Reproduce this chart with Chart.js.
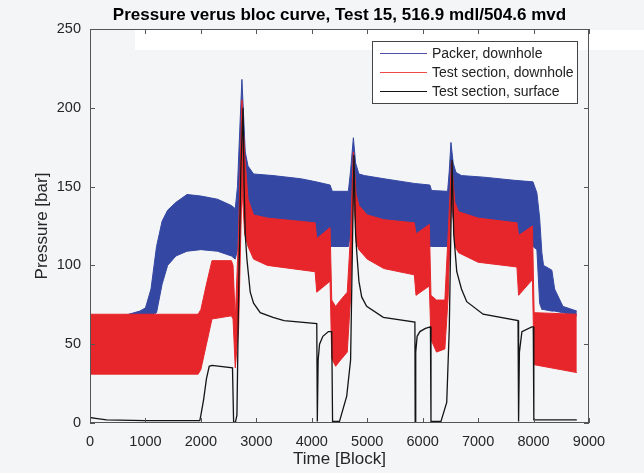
<!DOCTYPE html>
<html>
<head>
<meta charset="utf-8">
<title>Pressure verus bloc curve</title>
<script src="https://cdn.jsdelivr.net/npm/chart.js@4.4.0/dist/chart.umd.min.js"></script>
<style>
  html, body { margin: 0; padding: 0; background: #f4f5f7; }
</style>
</head>
<body>
<canvas id="pressureChart" width="644" height="473"></canvas>
<script>
const titleText = "Pressure verus bloc curve, Test 15, 516.9 mdl/504.6 mvd";
const legendLabels = ["Packer, downhole", "Test section, downhole", "Test section, surface"];

// Packer, downhole (noisy band: upper / lower envelope)
const packerX = [0, 600, 900, 1000, 1100, 1200, 1300, 1400, 1550, 1750, 2000, 2300, 2550, 2620, 2660, 2700, 2740, 2770, 2800, 2850, 2950, 3300, 3800, 4080, 4330, 4370, 4660, 4700, 4750, 4790, 4850, 4950, 5300, 5850, 6130, 6160, 6450, 6480, 6510, 6550, 6600, 6700, 7100, 7650, 7990, 8060, 8110, 8150, 8180, 8330, 8380, 8530, 8780];
const packerHi = [66, 68, 71, 73, 85, 112, 128, 135, 140, 145, 144, 142, 138, 136, 150, 185, 218, 195, 172, 163, 158, 157, 155, 153, 151, 147, 147, 160, 181, 165, 158, 157, 155, 152, 151, 147.5, 147, 160, 178, 165, 159, 157, 156, 154, 153, 146, 130, 108, 100, 97, 85, 74, 71];
const packerLo = [60, 62, 64, 66, 68, 70, 88, 100, 106, 109, 110, 109, 106, 104, 110, 150, 190, 160, 140, 126, 120, 118, 115, 113, 112, 112, 112, 120, 150, 130, 125, 120, 117, 113, 112, 112, 112, 125, 150, 130, 125, 120, 118, 115, 112, 110, 76, 72, 72, 71, 71, 70, 68];

// Test section, downhole (noisy band: upper / lower envelope)
const testDhX = [0, 1950, 2000, 2100, 2200, 2550, 2580, 2620, 2680, 2740, 2790, 2850, 2950, 3200, 4060, 4090, 4330, 4360, 4430, 4520, 4640, 4700, 4750, 4800, 4850, 5000, 5300, 5850, 5880, 6120, 6150, 6250, 6400, 6460, 6520, 6580, 6650, 7000, 7700, 7730, 7980, 8010, 8780];
const testDhHi = [69, 69, 72, 88, 103, 103, 100, 66, 120, 205, 170, 142, 132, 130, 127, 117, 124, 78, 74, 78, 83, 120, 172, 145, 138, 132, 129, 127, 120, 126, 81, 78, 78, 120, 166, 140, 134, 130, 127, 119, 125, 70, 69];
const testDhLo = [31, 31, 34, 50, 66, 68, 66, 35, 60, 150, 120, 112, 104, 100, 96, 83, 90, 41, 36, 40, 45, 80, 150, 115, 110, 104, 98, 94, 81, 87, 53, 45, 47, 80, 150, 112, 108, 102, 99, 81, 91, 37, 32];

// Test section, surface
const surfaceX = [0, 100, 300, 1000, 1980, 2000, 2050, 2100, 2150, 2200, 2570, 2590, 2620, 2650, 2680, 2720, 2760, 2780, 2800, 2830, 2890, 2950, 3070, 3300, 3500, 4090, 4100, 4115, 4140, 4200, 4300, 4360, 4375, 4500, 4630, 4700, 4760, 4790, 4812, 4850, 4900, 4990, 5290, 5860, 5865, 5875, 5900, 5950, 6050, 6140, 6150, 6330, 6434, 6480, 6530, 6560, 6615, 6700, 6795, 7090, 7720, 7730, 7745, 7790, 7968, 7995, 8005, 8780];
const surfaceY = [3.5, 3, 2, 1.5, 1.5, 5, 15, 28, 36, 36.5, 35, 1, 0, 5, 80, 160, 200, 150, 120, 104, 83, 76, 70, 67, 65, 63, 1, 40, 50, 55, 58, 58, 1, 1, 17, 40, 170, 120, 108, 90, 80, 74, 67, 64, 1, 45, 55, 58, 60, 61, 1, 1, 13, 60, 167, 120, 96, 85, 77, 69, 65, 1, 45, 58, 61, 61, 2, 2];

const toPts = (xs, ys) => xs.map((x, i) => ({ x: x, y: ys[i] }));

const blue = "#3447a2";
const red = "#e7262b";
const black = "#141414";
const fontFamily = "'Liberation Sans', Arial, Helvetica, sans-serif";

const chartBackground = {
  id: "chartBackground",
  beforeDraw(chart) {
    const { ctx, width, height, chartArea: a } = chart;
    ctx.save();
    ctx.fillStyle = "#f4f5f7";
    ctx.fillRect(0, 0, width, height);
    // whiter strip visible along the top of the scanned figure
    ctx.fillStyle = "#ffffff";
    ctx.fillRect(a.left + 45, a.top + 1, width - a.left - 45, 20);
    ctx.restore();
  },
};

const boxAndTicks = {
  id: "boxAndTicks",
  afterDatasetsDraw(chart) {
    const { ctx, chartArea: a, scales } = chart;
    ctx.save();
    ctx.strokeStyle = "#555555";
    ctx.lineWidth = 1;
    ctx.strokeRect(a.left + 0.5, a.top + 0.5, a.right - a.left - 1, a.bottom - a.top - 1);
    ctx.beginPath();
    scales.x.ticks.forEach((t) => {
      const px = Math.round(scales.x.getPixelForValue(t.value)) + 0.5;
      ctx.moveTo(px, a.bottom);
      ctx.lineTo(px, a.bottom - 5);
      ctx.moveTo(px, a.top);
      ctx.lineTo(px, a.top + 5);
    });
    scales.y.ticks.forEach((t) => {
      const py = Math.round(scales.y.getPixelForValue(t.value)) + 0.5;
      ctx.moveTo(a.left, py);
      ctx.lineTo(a.left + 5, py);
      ctx.moveTo(a.right, py);
      ctx.lineTo(a.right - 5, py);
    });
    ctx.stroke();
    ctx.restore();
  },
  afterDraw(chart) {
    const { ctx, chartArea: a } = chart;
    ctx.save();
    // title
    ctx.fillStyle = "#000000";
    ctx.font = "bold 17px " + fontFamily;
    ctx.textAlign = "center";
    ctx.textBaseline = "middle";
    ctx.fillText(titleText, (a.left + a.right) / 2, 15);

    // legend inside the plot, top right
    const w = 205, h = 62;
    const lx = a.right - 12 - w, ly = a.top + 12;
    ctx.fillStyle = "#ffffff";
    ctx.fillRect(lx, ly, w, h);
    ctx.strokeStyle = "#444444";
    ctx.lineWidth = 1;
    ctx.strokeRect(lx + 0.5, ly + 0.5, w, h);
    const lineColors = ["#5050a8", "#ee4a4a", black];
    ctx.font = "14px " + fontFamily;
    ctx.textAlign = "left";
    legendLabels.forEach((label, i) => {
      const ry = ly + 12 + i * 19;
      ctx.strokeStyle = lineColors[i];
      ctx.beginPath();
      ctx.moveTo(lx + 8, ry + 0.5);
      ctx.lineTo(lx + 55, ry + 0.5);
      ctx.stroke();
      ctx.fillStyle = "#222222";
      ctx.fillText(label, lx + 60, ry + 1);
    });
    ctx.restore();
  },
};

const ctx = document.getElementById("pressureChart").getContext("2d");

new Chart(ctx, {
  type: "line",
  data: {
    datasets: [
      {
        label: legendLabels[2],
        data: toPts(surfaceX, surfaceY),
        borderColor: black,
        borderWidth: 1.3,
        fill: false,
      },
      {
        label: legendLabels[1],
        data: toPts(testDhX, testDhHi),
        borderColor: red,
        backgroundColor: red,
        borderWidth: 1,
        fill: "+1",
      },
      {
        label: legendLabels[1] + " (lower)",
        data: toPts(testDhX, testDhLo),
        borderColor: red,
        borderWidth: 1,
        fill: false,
      },
      {
        label: legendLabels[0],
        data: toPts(packerX, packerHi),
        borderColor: blue,
        backgroundColor: blue,
        borderWidth: 1,
        fill: "+1",
      },
      {
        label: legendLabels[0] + " (lower)",
        data: toPts(packerX, packerLo),
        borderColor: blue,
        borderWidth: 1,
        fill: false,
      },
    ],
  },
  options: {
    responsive: false,
    animation: false,
    layout: { padding: { top: 29, right: 55, left: 0, bottom: 0 } },
    elements: { point: { radius: 0 }, line: { tension: 0 } },
    plugins: {
      legend: { display: false },
      title: { display: false },
      tooltip: { enabled: false },
    },
    scales: {
      x: {
        type: "linear",
        min: 0,
        max: 9000,
        grid: { display: false, drawTicks: false },
        border: { display: false },
        ticks: {
          stepSize: 1000,
          padding: 10,
          color: "#262626",
          font: { family: fontFamily, size: 14.5 },
          callback: (v) => String(v),
        },
        title: {
          display: true,
          text: "Time [Block]",
          color: "#262626",
          font: { family: fontFamily, size: 17 },
          padding: { top: 0, bottom: 3 },
        },
        afterFit: (scale) => { scale.height = 50; },
      },
      y: {
        min: 0,
        max: 250,
        grid: { display: false, drawTicks: false },
        border: { display: false },
        ticks: {
          stepSize: 50,
          padding: 9,
          color: "#262626",
          font: { family: fontFamily, size: 14.5 },
          callback: (v) => String(v),
        },
        title: {
          display: true,
          text: "Pressure [bar]",
          color: "#262626",
          font: { family: fontFamily, size: 17 },
          padding: { top: 32, bottom: 0 },
        },
        afterFit: (scale) => { scale.width = 90; },
      },
    },
  },
  plugins: [chartBackground, boxAndTicks],
});
</script>
</body>
</html>
